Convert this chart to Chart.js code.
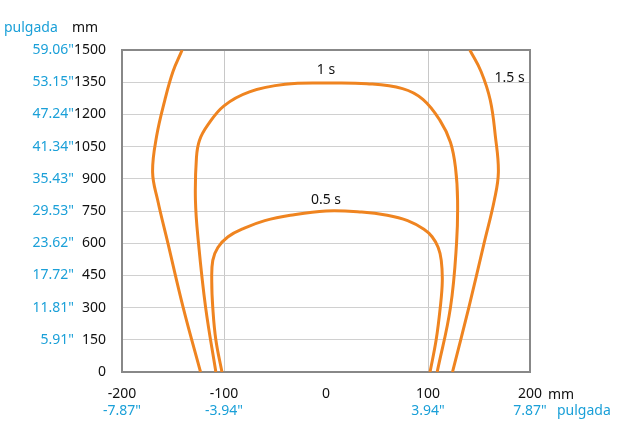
<!DOCTYPE html>
<html><head><meta charset="utf-8">
<script src="https://cdn.jsdelivr.net/npm/chart.js@4"></script>
<style>body{margin:0;background:#fff}#wrap{width:620px;height:442px}</style>
</head><body><div id="wrap"><canvas id="c"></canvas></div>
<script>
const yTicks = [0, 150, 300, 450, 600, 750, 900, 1050, 1200, 1350, 1500];
const yInch = ['', '5.91"', '11.81"', '17.72"', '23.62"', '29.53"', '35.43"', '41.34"', '47.24"', '53.15"', '59.06"'];
const xTicks = [-200, -100, 0, 100, 200];
const xInch = ['-7.87"', '-3.94"', '', '3.94"', '7.87"'];

const c05X = [-102, -108, -111, -112, -111, -106, -96, -80, -60, -35, 0, 35, 60, 80, 96, 104, 110, 113, 114, 112, 108, 102];
const c05Y = [0, 150, 300, 420, 520, 580, 630, 670, 705, 730, 750, 745, 730, 705, 665, 630, 580, 520, 420, 300, 150, 0];
const c1X = [-108, -118, -125, -128, -127, -124, -116, -100, -75, -40, 0, 40, 75, 95, 112, 122, 127, 129, 128, 122, 109];
const c1Y = [0, 300, 600, 800, 1000, 1080, 1150, 1240, 1305, 1340, 1346, 1343, 1320, 1270, 1170, 1070, 950, 800, 600, 300, 0];
const c15LX = [-123, -140, -155, -165, -170, -166, -158, -150, -141];
const c15RX = [124, 140, 155, 165, 169, 166, 161, 152, 141];
const c15Y = [0, 300, 600, 800, 931, 1100, 1267, 1400, 1500];
const labels = [['0.5 s', 0, 800], ['1 s', 0, 1405], ['1.5 s', 180, 1370]];

const BLUE = '#1ba0d8', ORANGE = '#ef8420', FONT = 'Noto Sans';
const pts = (xs, ys) => xs.map((x, i) => ({x, y: ys[i]}));
const line = d => ({data: d, showLine: true, borderColor: ORANGE, borderWidth: 3, pointRadius: 0, tension: 0.4, fill: false});

const textPlugin = {
  id: 'texts',
  afterDraw(chart) {
    const {ctx, scales: {x, y}} = chart;
    ctx.save();
    ctx.font = '14px ' + FONT;
    ctx.textAlign = 'center';
    ctx.textBaseline = 'middle';
    ctx.fillStyle = '#111';
    labels.forEach(([t, vx, vy]) => ctx.fillText(t, x.getPixelForValue(vx), y.getPixelForValue(vy)));
    ctx.fillStyle = BLUE;
    xTicks.forEach((v, i) => ctx.fillText(xInch[i], x.getPixelForValue(v), 411));
    ctx.textAlign = 'right';
    yTicks.forEach((v, i) => ctx.fillText(yInch[i], 74, y.getPixelForValue(v)));
    ctx.textAlign = 'left';
    ctx.fillText('pulgada', 4, 28);
    ctx.fillStyle = '#111'; ctx.fillText('mm', 72, 28);
    ctx.fillText('mm', 548, 395);
    ctx.fillStyle = BLUE; ctx.fillText('pulgada', 557, 411);
    ctx.restore();
  }
};

new Chart(document.getElementById('c'), {
  type: 'scatter',
  data: {datasets: [line(pts(c05X, c05Y)), line(pts(c1X, c1Y)), line(pts(c15LX, c15Y)), line(pts(c15RX, c15Y))]},
  options: {
    responsive: true, maintainAspectRatio: false, animation: false,
    layout: {padding: {top: 50, right: 90, left: 0, bottom: 0}},
    plugins: {legend: {display: false}, tooltip: {enabled: false}},
    scales: {
      x: {
        type: 'linear', min: -200, max: 200, position: 'bottom',
        afterBuildTicks: a => { a.ticks = xTicks.map(v => ({value: v})); },
        afterFit: a => { a.height = 70; },
        grid: {color: ctx => (ctx.tick && Math.abs(ctx.tick.value) === 100) ? '#c8c8c8' : 'rgba(0,0,0,0)', drawTicks: false},
        border: {color: '#888', width: 2},
        ticks: {color: '#111', font: {family: FONT, size: 14}, padding: 14, maxRotation: 0, callback: v => String(v)}
      },
      y: {
        type: 'linear', min: 0, max: 1500, position: 'left',
        afterBuildTicks: a => { a.ticks = yTicks.map(v => ({value: v})); },
        afterFit: a => { a.width = 122; },
        grid: {color: '#d0d0d0', drawTicks: false},
        border: {color: '#888', width: 2},
        ticks: {color: '#111', font: {family: FONT, size: 14}, padding: 16, callback: v => String(v)}
      },
      yR: {
        type: 'linear', min: 0, max: 1500, position: 'right',
        afterFit: a => { a.width = 0; },
        grid: {display: false}, ticks: {display: false}, border: {color: '#888', width: 2}
      },
      xT: {
        type: 'linear', min: -200, max: 200, position: 'top',
        afterFit: a => { a.height = 0; },
        grid: {display: false}, ticks: {display: false}, border: {color: '#888', width: 2}
      }
    }
  },
  plugins: [textPlugin]
});
</script></body></html>
